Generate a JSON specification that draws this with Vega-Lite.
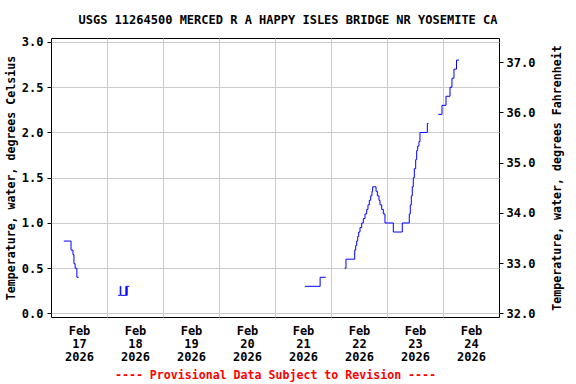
{
  "$schema": "https://vega.github.io/schema/vega-lite/v6.json",
  "width": 448,
  "height": 279,
  "autosize": {"type": "none"},
  "padding": {"left": 51, "top": 38, "right": 77, "bottom": 67},
  "background": "white",
  "config": {
    "font": "DejaVu Sans Mono",
    "view": {"stroke": "black", "strokeWidth": 1},
    "axis": {"labelFont": "DejaVu Sans Mono", "titleFont": "DejaVu Sans Mono", "labelColor": "black", "titleColor": "black", "labelFontWeight": "bold", "titleFontWeight": "bold", "gridColor": "#cccccc", "gridWidth": 1, "tickColor": "black", "domain": false}
  },
  "title": {"text": "USGS 11264500 MERCED R A HAPPY ISLES BRIDGE NR YOSEMITE CA", "anchor": "middle", "frame": "group", "dx": 13, "fontSize": 12, "fontWeight": "bold", "font": "DejaVu Sans Mono", "color": "black", "baseline": "alphabetic", "offset": 0},
  "data": {"values": [
    {"t": "2026-02-17T05:30:00", "c": 0.8, "s": 1},
    {"t": "2026-02-17T08:35:00", "c": 0.7, "s": 1},
    {"t": "2026-02-17T09:25:00", "c": 0.65, "s": 1},
    {"t": "2026-02-17T09:50:00", "c": 0.55, "s": 1},
    {"t": "2026-02-17T10:20:00", "c": 0.5, "s": 1},
    {"t": "2026-02-17T11:05:00", "c": 0.4, "s": 1},
    {"t": "2026-02-17T11:50:00", "c": 0.4, "s": 1},
    {"t": "2026-02-18T04:50:00", "c": 0.2, "s": 2},
    {"t": "2026-02-18T05:40:00", "c": 0.3, "s": 2},
    {"t": "2026-02-18T05:55:00", "c": 0.2, "s": 2},
    {"t": "2026-02-18T08:05:00", "c": 0.3, "s": 2},
    {"t": "2026-02-18T08:20:00", "c": 0.2, "s": 2},
    {"t": "2026-02-18T08:40:00", "c": 0.3, "s": 2},
    {"t": "2026-02-18T09:35:00", "c": 0.3, "s": 2},
    {"t": "2026-02-21T12:50:00", "c": 0.3, "s": 3},
    {"t": "2026-02-21T19:20:00", "c": 0.4, "s": 3},
    {"t": "2026-02-21T21:45:00", "c": 0.4, "s": 3},
    {"t": "2026-02-22T05:50:00", "c": 0.5, "s": 4},
    {"t": "2026-02-22T06:25:00", "c": 0.6, "s": 4},
    {"t": "2026-02-22T10:09:00", "c": 0.7, "s": 4},
    {"t": "2026-02-22T10:35:00", "c": 0.75, "s": 4},
    {"t": "2026-02-22T11:00:00", "c": 0.8, "s": 4},
    {"t": "2026-02-22T11:26:00", "c": 0.85, "s": 4},
    {"t": "2026-02-22T11:52:00", "c": 0.9, "s": 4},
    {"t": "2026-02-22T12:26:00", "c": 0.95, "s": 4},
    {"t": "2026-02-22T13:09:00", "c": 1.0, "s": 4},
    {"t": "2026-02-22T13:51:00", "c": 1.05, "s": 4},
    {"t": "2026-02-22T14:34:00", "c": 1.1, "s": 4},
    {"t": "2026-02-22T15:18:00", "c": 1.15, "s": 4},
    {"t": "2026-02-22T15:51:00", "c": 1.2, "s": 4},
    {"t": "2026-02-22T16:25:00", "c": 1.25, "s": 4},
    {"t": "2026-02-22T17:01:00", "c": 1.3, "s": 4},
    {"t": "2026-02-22T17:34:00", "c": 1.35, "s": 4},
    {"t": "2026-02-22T17:52:00", "c": 1.4, "s": 4},
    {"t": "2026-02-22T19:18:00", "c": 1.35, "s": 4},
    {"t": "2026-02-22T19:52:00", "c": 1.3, "s": 4},
    {"t": "2026-02-22T20:34:00", "c": 1.25, "s": 4},
    {"t": "2026-02-22T21:00:00", "c": 1.2, "s": 4},
    {"t": "2026-02-22T21:43:00", "c": 1.15, "s": 4},
    {"t": "2026-02-22T22:25:00", "c": 1.1, "s": 4},
    {"t": "2026-02-22T23:08:00", "c": 1.0, "s": 4},
    {"t": "2026-02-23T02:42:00", "c": 0.9, "s": 4},
    {"t": "2026-02-23T06:33:00", "c": 1.0, "s": 4},
    {"t": "2026-02-23T09:33:00", "c": 1.1, "s": 4},
    {"t": "2026-02-23T09:59:00", "c": 1.2, "s": 4},
    {"t": "2026-02-23T10:25:00", "c": 1.3, "s": 4},
    {"t": "2026-02-23T10:50:00", "c": 1.4, "s": 4},
    {"t": "2026-02-23T11:16:00", "c": 1.5, "s": 4},
    {"t": "2026-02-23T11:42:00", "c": 1.6, "s": 4},
    {"t": "2026-02-23T12:18:00", "c": 1.7, "s": 4},
    {"t": "2026-02-23T12:43:00", "c": 1.8, "s": 4},
    {"t": "2026-02-23T13:09:00", "c": 1.85, "s": 4},
    {"t": "2026-02-23T13:42:00", "c": 1.9, "s": 4},
    {"t": "2026-02-23T14:08:00", "c": 2.0, "s": 4},
    {"t": "2026-02-23T17:17:00", "c": 2.1, "s": 4},
    {"t": "2026-02-23T17:47:00", "c": 2.1, "s": 4},
    {"t": "2026-02-23T21:59:00", "c": 2.2, "s": 5},
    {"t": "2026-02-23T23:34:00", "c": 2.3, "s": 5},
    {"t": "2026-02-24T01:17:00", "c": 2.4, "s": 5},
    {"t": "2026-02-24T03:00:00", "c": 2.5, "s": 5},
    {"t": "2026-02-24T03:50:00", "c": 2.6, "s": 5},
    {"t": "2026-02-24T04:42:00", "c": 2.7, "s": 5},
    {"t": "2026-02-24T05:47:00", "c": 2.8, "s": 5},
    {"t": "2026-02-24T06:52:00", "c": 2.8, "s": 5}
  ]},
  "layer": [
    {
      "mark": {"type": "line", "color": "#0000ff", "strokeWidth": 1, "interpolate": "step-after", "clip": true},
      "encoding": {
        "x": {"field": "t", "type": "temporal",
          "scale": {"domain": [{"year": 2026, "month": 2, "date": 17}, {"year": 2026, "month": 2, "date": 25}], "nice": false},
          "axis": {"orient": "bottom", "values": [
            {"year": 2026, "month": 2, "date": 17, "hours": 12},
            {"year": 2026, "month": 2, "date": 18, "hours": 12},
            {"year": 2026, "month": 2, "date": 19, "hours": 12},
            {"year": 2026, "month": 2, "date": 20, "hours": 12},
            {"year": 2026, "month": 2, "date": 21, "hours": 12},
            {"year": 2026, "month": 2, "date": 22, "hours": 12},
            {"year": 2026, "month": 2, "date": 23, "hours": 12},
            {"year": 2026, "month": 2, "date": 24, "hours": 12}],
            "labelExpr": "[timeFormat(datum.value, '%b'), timeFormat(datum.value, '%d'), timeFormat(datum.value, '%Y')]",
            "grid": false, "ticks": false, "labelPadding": 8, "labelFontSize": 12, "labelLineHeight": 13, "labelFlush": false, "labelOverlap": false,
            "title": "---- Provisional Data Subject to Revision ----", "titleColor": "#ff0000", "titleFontSize": 11.6, "titlePadding": 7}},
        "y": {"field": "c", "type": "quantitative",
          "scale": {"domain": [-0.039, 3.044], "nice": false, "zero": false},
          "axis": {"orient": "left", "values": [0, 0.5, 1, 1.5, 2, 2.5, 3], "format": ".1f", "grid": true, "tickSize": 4, "labelPadding": 4, "labelFontSize": 12, "title": "Temperature, water, degrees Celsius", "titleFontSize": 11.6, "titlePadding": 5}},
        "detail": {"field": "s", "type": "nominal"}
      }
    },
    {
      "mark": {"type": "point", "opacity": 0, "clip": true},
      "encoding": {
        "x": {"field": "t", "type": "temporal",
          "axis": {"orient": "bottom", "values": [
            {"year": 2026, "month": 2, "date": 18},
            {"year": 2026, "month": 2, "date": 19},
            {"year": 2026, "month": 2, "date": 20},
            {"year": 2026, "month": 2, "date": 21},
            {"year": 2026, "month": 2, "date": 22},
            {"year": 2026, "month": 2, "date": 23},
            {"year": 2026, "month": 2, "date": 24}],
            "grid": true, "labels": false, "ticks": false, "title": null}},
        "y": {"field": "c", "type": "quantitative",
          "scale": {"domain": [31.93, 37.48], "nice": false, "zero": false},
          "axis": {"orient": "right", "values": [32, 33, 34, 35, 36, 37], "format": ".1f", "grid": false, "tickSize": 4, "labelPadding": 3, "labelFontSize": 12, "title": "Temperature, water, degrees Fahrenheit", "titleAngle": 270, "titleBaseline": "bottom", "titleFontSize": 11.6, "titlePadding": 28}}
      }
    }
  ],
  "resolve": {"scale": {"y": "independent"}, "axis": {"x": "independent", "y": "independent"}}
}
